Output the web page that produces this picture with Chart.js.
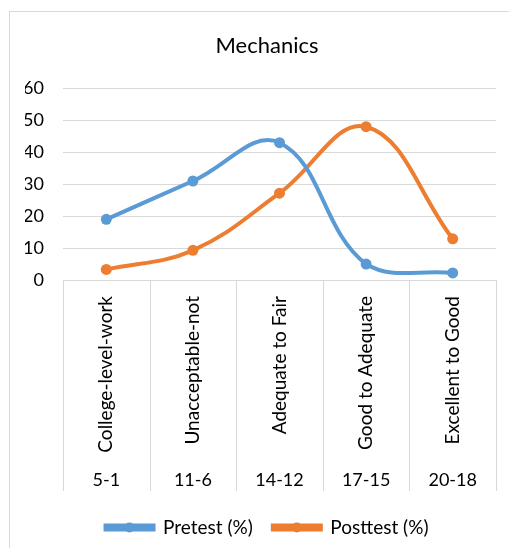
<!DOCTYPE html>
<html>
<head>
<meta charset="utf-8">
<script src="https://cdn.jsdelivr.net/npm/chart.js@4/dist/chart.umd.min.js"></script>
<style>
  html, body { margin: 0; padding: 0; background: #fff; }
  #wrap { width: 509px; height: 548px; position: relative; }
</style>
</head>
<body>
<div id="wrap"><canvas id="c" width="509" height="548"></canvas></div>
<script>
const categories = ["College-level-work", "Unacceptable-not", "Adequate to Fair", "Good to Adequate", "Excellent to Good"];
const scoreRanges = ["5-1", "11-6", "14-12", "17-15", "20-18"];
const pretest = [19, 31, 43, 5, 2.2];
const posttest = [3.3, 9.3, 27.2, 48, 12.9];
const yTicks = [0, 10, 20, 30, 40, 50, 60];

const BLUE = '#5B9BD5';
const ORANGE = '#ED7D31';
const GRID = '#d9d9d9';
const FONT = 'Lato, "Open Sans", sans-serif';

const framePlugin = {
  id: 'frame',
  beforeDraw(chart) {
    const ctx = chart.ctx;
    ctx.save();
    ctx.fillStyle = '#fff';
    ctx.fillRect(0, 0, chart.width, chart.height);
    ctx.strokeStyle = GRID;
    ctx.lineWidth = 1;
    ctx.strokeRect(9.5, 11.5, chart.width + 20, chart.height + 20);
    ctx.restore();
  },
  afterDraw(chart) {
    const ctx = chart.ctx;
    const xs = chart.scales.x;
    const x2 = chart.scales.x2;
    const n = categories.length;
    const half = (xs.getPixelForValue(1) - xs.getPixelForValue(0)) / 2;
    ctx.save();
    ctx.strokeStyle = GRID;
    ctx.lineWidth = 1;
    ctx.beginPath();
    for (let i = 0; i <= n; i++) {
      const px = Math.round(i < n ? xs.getPixelForValue(i) - half : xs.getPixelForValue(n - 1) + half) + 0.5;
      ctx.moveTo(px, chart.chartArea.bottom);
      ctx.lineTo(px, x2.bottom - 7);
    }
    ctx.stroke();
    // legend markers
    const lg = chart.legend;
    if (lg && lg.legendHitBoxes) {
      lg.legendHitBoxes.forEach((hb, i) => {
        const ds = chart.data.datasets[i];
        const bw = lg.options.labels.boxWidth;
        const fs = lg.options.labels.font.size;
        ctx.fillStyle = ds.borderColor;
        ctx.beginPath();
        ctx.arc(hb.left + bw / 2, hb.top + fs / 2, 5, 0, Math.PI * 2);
        ctx.fill();
      });
    }
    ctx.restore();
  }
};

new Chart(document.getElementById('c'), {
  type: 'line',
  data: {
    labels: categories,
    datasets: [
      { label: 'Pretest (%)', data: pretest, borderColor: BLUE, backgroundColor: BLUE,
        borderWidth: 4, pointRadius: 5.5, pointBackgroundColor: BLUE, pointBorderWidth: 0,
        tension: 0.4, xAxisID: 'x', yAxisID: 'y' },
      { label: 'Posttest (%)', data: posttest, borderColor: ORANGE, backgroundColor: ORANGE,
        borderWidth: 4, pointRadius: 5.5, pointBackgroundColor: ORANGE, pointBorderWidth: 0,
        tension: 0.4, xAxisID: 'x', yAxisID: 'y' }
    ]
  },
  options: {
    responsive: false,
    animation: false,
    devicePixelRatio: 1,
    layout: { padding: { top: 33, left: 25, right: 0, bottom: 1 } },
    plugins: {
      title: {
        display: true, text: 'Mechanics', color: '#000',
        font: { family: FONT, size: 22, weight: 'normal' },
        padding: { top: 0, bottom: 29 }
      },
      legend: {
        position: 'bottom',
        labels: {
          color: '#000',
          font: { family: FONT, size: 19 },
          boxWidth: 48, boxHeight: 4, padding: 20
        }
      },
      tooltip: { enabled: false }
    },
    scales: {
      x: {
        type: 'category', position: 'bottom', weight: 0, offset: true,
        grid: { display: false, drawTicks: false }, border: { display: false },
        ticks: { color: '#000', font: { family: FONT, size: 19 }, minRotation: 90, maxRotation: 90, padding: 16, autoSkip: false },
        afterFit(s) { s.height = 181; }
      },
      x2: {
        type: 'category', position: 'bottom', weight: 1, offset: true,
        labels: scoreRanges,
        grid: { display: false, drawTicks: false }, border: { display: false },
        ticks: { color: '#000', font: { family: FONT, size: 18 }, maxRotation: 0, padding: 8, autoSkip: false },
        afterFit(s) { s.height = 37; }
      },
      y: {
        type: 'linear', position: 'left', min: 0, max: 60,
        afterBuildTicks(s) { s.ticks = yTicks.map(v => ({ value: v })); },
        grid: { color: GRID, lineWidth: 1, drawTicks: false },
        border: { display: false },
        ticks: { color: '#000', font: { family: FONT, size: 18 }, padding: 19 },
        afterFit(s) { s.width = 38; }
      },
      yr: {
        type: 'linear', position: 'right', display: true,
        grid: { display: false }, border: { display: false },
        ticks: { display: false },
        afterFit(s) { s.width = 13; }
      }
    }
  },
  plugins: [framePlugin]
});
</script>
</body>
</html>
